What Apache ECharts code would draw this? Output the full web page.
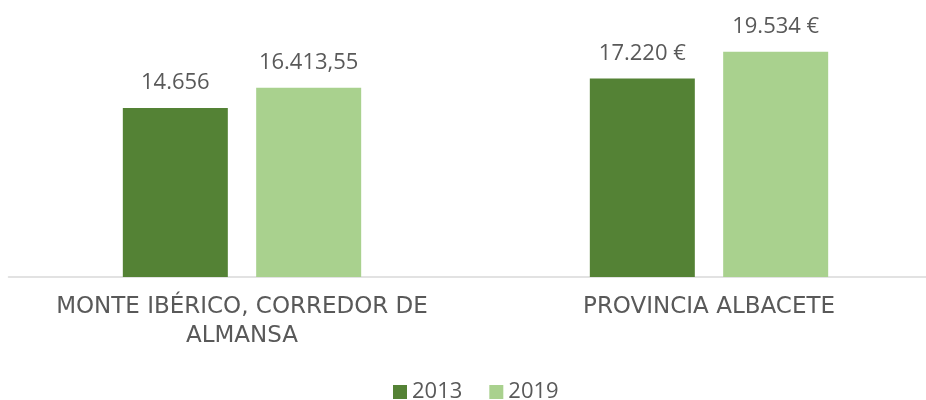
<!DOCTYPE html>
<html>
<head>
<meta charset="utf-8">
<script src="https://cdn.jsdelivr.net/npm/echarts@6/dist/echarts.min.js"></script>
<style>
html,body{margin:0;padding:0;background:#fff;}
#chart{width:926px;height:400px;}
</style>
</head>
<body>
<div id="chart"></div>
<script>
var categories = ['MONTE IBÉRICO, CORREDOR DE\nALMANSA', 'PROVINCIA ALBACETE'];
var seriesNames = ['2013', '2019'];
var values2013 = [14656, 17220];
var values2019 = [16413.55, 19534];
var labels2013 = ['14.656', '17.220 €'];
var labels2019 = ['16.413,55', '19.534 €'];

var FONT = 'Open Sans';
var AXFONT = 'DejaVu Sans';
var TEXT = '#595959';

function makeSeries(name, data, labels, color) {
  return {
    name: name,
    type: 'bar',
    data: data,
    barWidth: 105,
    barGap: '27%',
    itemStyle: { color: color },
    label: {
      show: true,
      position: 'top',
      distance: 14,
      color: TEXT,
      fontFamily: FONT,
      fontSize: 22,
      formatter: function (p) { return labels[p.dataIndex]; }
    }
  };
}

var chart = echarts.init(document.getElementById('chart'), null, { renderer: 'canvas' });
chart.setOption({
  animation: false,
  backgroundColor: '#ffffff',
  grid: { left: 8.5, width: 934, top: 46.4, bottom: 123, containLabel: false, outerBoundsMode: 'none' },
  legend: {
    data: seriesNames,
    bottom: -8,
    left: 388,
    itemWidth: 14,
    itemHeight: 14,
    itemGap: 27,
    icon: 'rect',
    textStyle: { color: TEXT, fontFamily: FONT, fontSize: 22, padding: [0, 0, 0, 0] }
  },
  xAxis: {
    type: 'category',
    data: categories,
    axisLine: { show: true, lineStyle: { color: '#D9D9D9', width: 1.5 } },
    axisTick: { show: false },
    axisLabel: {
      color: TEXT,
      fontFamily: AXFONT,
      fontSize: 23,
      lineHeight: 29,
      margin: 16,
      interval: 0
    }
  },
  yAxis: {
    type: 'value',
    min: 0,
    max: 20000,
    show: false,
    splitLine: { show: false }
  },
  series: [
    makeSeries(seriesNames[0], values2013, labels2013, '#548235'),
    makeSeries(seriesNames[1], values2019, labels2019, '#A9D18E')
  ]
});
</script>
</body>
</html>
